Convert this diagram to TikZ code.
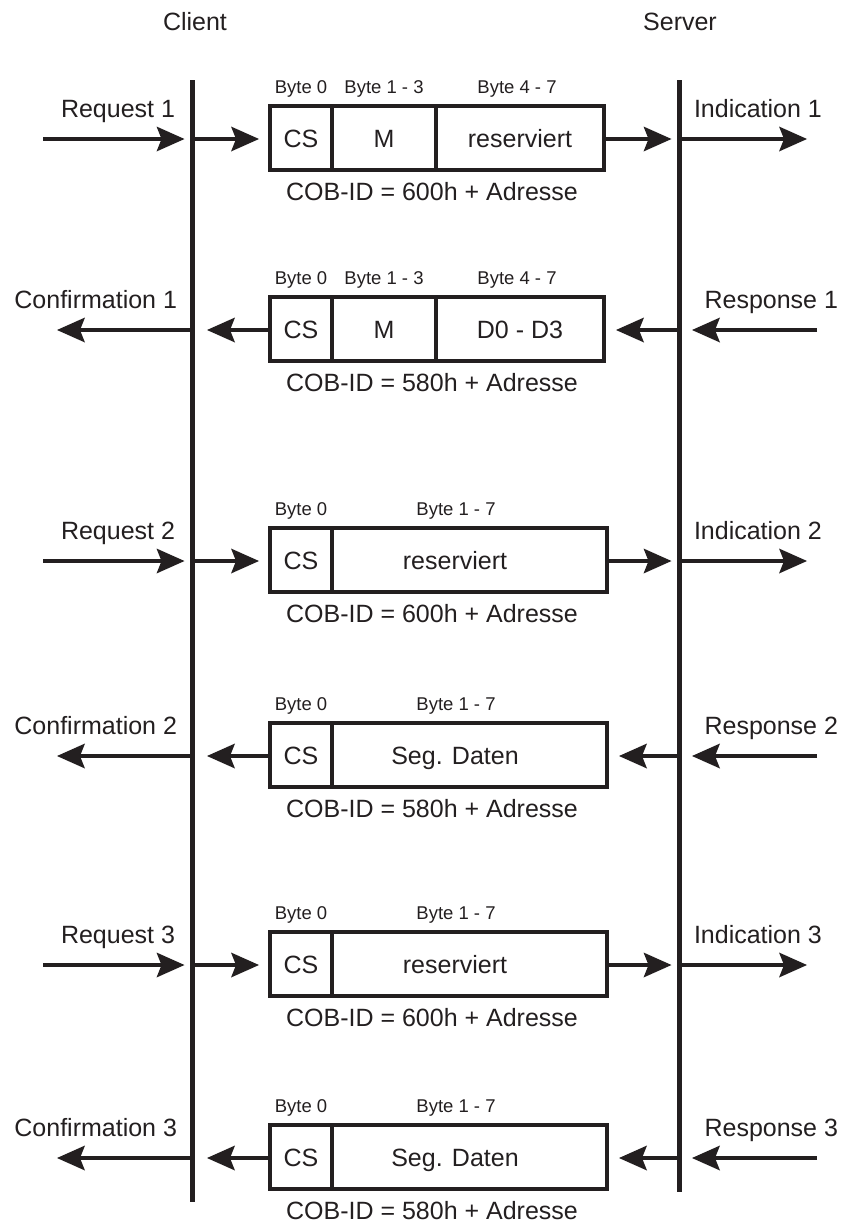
\documentclass[tikz,border=0pt]{standalone}
\usepackage{fontspec}
\setmainfont{Liberation Sans}
\usetikzlibrary{arrows.meta}
\definecolor{ink}{HTML}{231F20}
\begin{document}
\begin{tikzpicture}[x=1pt,y=-1pt,
  lbl/.style={inner sep=0pt, outer sep=0pt, text=ink, font=\fontsize{25}{30}\selectfont},
  bytelbl/.style={inner sep=0pt, outer sep=0pt, text=ink, font=\fontsize{18.5}{22}\selectfont, anchor=base},
  field/.style={draw=ink, line width=4pt, minimum height=64pt, inner sep=0pt, outer sep=0pt,
    anchor=north west, text=ink, font=\fontsize{25}{30}\selectfont, text height=18pt, text depth=0pt},
  fieldtext/.style={lbl, text height=18pt, text depth=0pt},
  lifeline/.style={draw=ink, line width=5pt},
  msg/.style={draw=ink, line width=4pt, -{Stealth[length=28pt,width=25pt,inset=5pt,line width=0pt]}},
]
\useasboundingbox (0,0) rectangle (844,1226);

% lifelines
\node[lbl, anchor=base] (client) at (195,30) {Client};
\node[lbl, anchor=base] (server) at (680,30) {Server};
\coordinate (ct) at (192,80);
\coordinate (cb) at (192,1202);
\coordinate (st) at (679,80);
\coordinate (sb) at (679,1192);
\draw[lifeline] (ct) -- (cb);
\draw[lifeline] (st) -- (sb);

% ---- 1: initiate request (T=106)
\node[field, minimum width=62pt] (cs1) at (270,106) {CS};
\node[field, minimum width=104pt] (m1) at (332,106) {M};
\node[field, minimum width=168pt] (d1) at (436,106) {reserviert};
\node[bytelbl] (b1a) at (301,93) {Byte 0};
\node[bytelbl] (b1b) at (384,93) {Byte 1 - 3};
\node[bytelbl] (b1c) at (517,93) {Byte 4 - 7};
\node[lbl, anchor=base] (cob1) at (432,200) {COB-ID = 600h + Adresse};
\node[lbl, anchor=base east] (req1) at (175,117) {Request 1};
\node[lbl, anchor=base west] (ind1) at (694,117) {Indication 1};
\coordinate (src1) at (43,139);
\coordinate (dst1) at (807,139);
\draw[msg, shorten >=7.5pt] (src1) -- (src1 -| ct);
\draw[msg, shorten >=11pt] (src1 -| ct) -- (src1 -| cs1.west);
\draw[msg, shorten >=7.5pt] (src1 -| d1.east) -- (src1 -| st);
\draw[msg] (src1 -| st) -- (dst1);

% ---- 2: initiate response (T=297)
\node[field, minimum width=62pt] (cs2) at (270,297) {CS};
\node[field, minimum width=104pt] (m2) at (332,297) {M};
\node[field, minimum width=168pt] (d2) at (436,297) {D0 - D3};
\node[bytelbl] (b2a) at (301,284) {Byte 0};
\node[bytelbl] (b2b) at (384,284) {Byte 1 - 3};
\node[bytelbl] (b2c) at (517,284) {Byte 4 - 7};
\node[lbl, anchor=base] (cob2) at (432,391) {COB-ID = 580h + Adresse};
\node[lbl, anchor=base east] (con1) at (177,308) {Confirmation 1};
\node[lbl, anchor=base east] (res1) at (838,308) {Response 1};
\coordinate (src2) at (817,330);
\coordinate (dst2) at (57,330);
\draw[msg, shorten >=13pt] (src2) -- (src2 -| st);
\draw[msg, shorten >=12pt] (src2 -| st) -- (src2 -| d2.east);
\draw[msg, shorten >=15pt] (src2 -| cs2.west) -- (src2 -| ct);
\draw[msg] (src2 -| ct) -- (dst2);

% ---- 3: segment request (T=528)
\node[field, minimum width=62pt] (cs3) at (270,528) {CS};
\node[field, minimum width=275pt] (d3) at (332,528) {};
\node[fieldtext] (t3) at (455,560) {reserviert};
\node[bytelbl] (b3a) at (301,515) {Byte 0};
\node[bytelbl] (b3b) at (456,515) {Byte 1 - 7};
\node[lbl, anchor=base] (cob3) at (432,622) {COB-ID = 600h + Adresse};
\node[lbl, anchor=base east] (req2) at (175,539) {Request 2};
\node[lbl, anchor=base west] (ind2) at (694,539) {Indication 2};
\coordinate (src3) at (43,561);
\coordinate (dst3) at (807,561);
\draw[msg, shorten >=7.5pt] (src3) -- (src3 -| ct);
\draw[msg, shorten >=11pt] (src3 -| ct) -- (src3 -| cs3.west);
\draw[msg, shorten >=7.5pt] (src3 -| d3.east) -- (src3 -| st);
\draw[msg] (src3 -| st) -- (dst3);

% ---- 4: segment response (T=723)
\node[field, minimum width=62pt] (cs4) at (270,723) {CS};
\node[field, minimum width=275pt] (d4) at (332,723) {};
\node[fieldtext] (t4) at (455,755) {Seg. Daten};
\node[bytelbl] (b4a) at (301,710) {Byte 0};
\node[bytelbl] (b4b) at (456,710) {Byte 1 - 7};
\node[lbl, anchor=base] (cob4) at (432,817) {COB-ID = 580h + Adresse};
\node[lbl, anchor=base east] (con2) at (177,734) {Confirmation 2};
\node[lbl, anchor=base east] (res2) at (838,734) {Response 2};
\coordinate (src4) at (817,756);
\coordinate (dst4) at (57,756);
\draw[msg, shorten >=13pt] (src4) -- (src4 -| st);
\draw[msg, shorten >=12pt] (src4 -| st) -- (src4 -| d4.east);
\draw[msg, shorten >=15pt] (src4 -| cs4.west) -- (src4 -| ct);
\draw[msg] (src4 -| ct) -- (dst4);

% ---- 5: segment request (T=932)
\node[field, minimum width=62pt] (cs5) at (270,932) {CS};
\node[field, minimum width=275pt] (d5) at (332,932) {};
\node[fieldtext] (t5) at (455,964) {reserviert};
\node[bytelbl] (b5a) at (301,919) {Byte 0};
\node[bytelbl] (b5b) at (456,919) {Byte 1 - 7};
\node[lbl, anchor=base] (cob5) at (432,1026) {COB-ID = 600h + Adresse};
\node[lbl, anchor=base east] (req3) at (175,943) {Request 3};
\node[lbl, anchor=base west] (ind3) at (694,943) {Indication 3};
\coordinate (src5) at (43,965);
\coordinate (dst5) at (807,965);
\draw[msg, shorten >=7.5pt] (src5) -- (src5 -| ct);
\draw[msg, shorten >=11pt] (src5 -| ct) -- (src5 -| cs5.west);
\draw[msg, shorten >=7.5pt] (src5 -| d5.east) -- (src5 -| st);
\draw[msg] (src5 -| st) -- (dst5);

% ---- 6: segment response (T=1125)
\node[field, minimum width=62pt] (cs6) at (270,1125) {CS};
\node[field, minimum width=275pt] (d6) at (332,1125) {};
\node[fieldtext] (t6) at (455,1157) {Seg. Daten};
\node[bytelbl] (b6a) at (301,1112) {Byte 0};
\node[bytelbl] (b6b) at (456,1112) {Byte 1 - 7};
\node[lbl, anchor=base] (cob6) at (432,1219) {COB-ID = 580h + Adresse};
\node[lbl, anchor=base east] (con3) at (177,1136) {Confirmation 3};
\node[lbl, anchor=base east] (res3) at (838,1136) {Response 3};
\coordinate (src6) at (817,1158);
\coordinate (dst6) at (57,1158);
\draw[msg, shorten >=13pt] (src6) -- (src6 -| st);
\draw[msg, shorten >=12pt] (src6 -| st) -- (src6 -| d6.east);
\draw[msg, shorten >=15pt] (src6 -| cs6.west) -- (src6 -| ct);
\draw[msg] (src6 -| ct) -- (dst6);
\end{tikzpicture}
\end{document}
